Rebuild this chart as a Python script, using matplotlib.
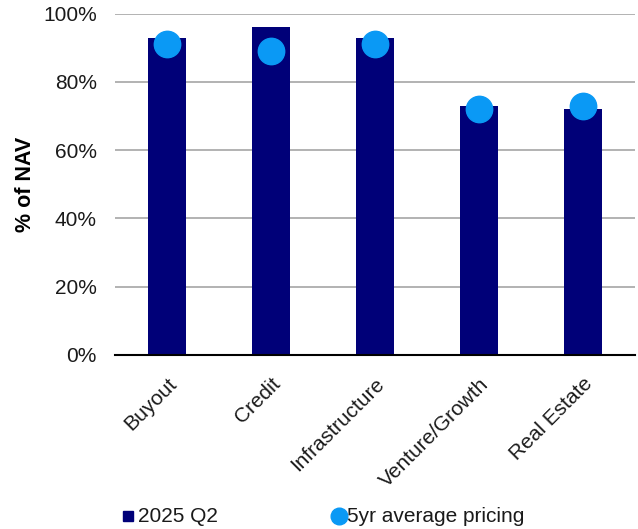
import matplotlib
matplotlib.use("Agg")
import matplotlib.pyplot as plt
from matplotlib.lines import Line2D
from matplotlib.ticker import PercentFormatter

categories = ["Buyout", "Credit", "Infrastructure", "Venture/Growth", "Real Estate"]
q2_2025 = [93, 96, 93, 73, 72]
avg_5yr = [91, 89, 91, 72, 73]
y_ticks = [0, 20, 40, 60, 80, 100]

bar_color = "#000078"
dot_color = "#0a99f5"
text_color = "#1a1a1a"

plt.rcParams["font.family"] = ["Liberation Sans", "DejaVu Sans"]

fig = plt.figure(figsize=(6.38, 5.29), dpi=100)
ax = fig.add_axes([0.180, 0.329, 0.815, 0.645])

x = list(range(len(categories)))
ax.bar(x, q2_2025, width=0.37, color=bar_color, zorder=2)
ax.plot(x, avg_5yr, linestyle="none", marker="o", markersize=19,
        color=dot_color, zorder=3)

ax.set_xlim(-0.5, len(categories) - 0.5)
ax.set_ylim(0, 100)
ax.set_yticks(y_ticks)
ax.yaxis.set_major_formatter(PercentFormatter(decimals=0))
ax.grid(axis="y", color="#a6a6a6", linewidth=1.2, zorder=0)
ax.set_axisbelow(True)

for side in ("top", "right", "left"):
    ax.spines[side].set_visible(False)
ax.spines["bottom"].set_color("black")
ax.spines["bottom"].set_linewidth(1.5)
ax.spines["bottom"].set_zorder(4)

ax.tick_params(axis="y", length=0, pad=13, labelsize=15, colors=text_color)
ax.tick_params(axis="x", length=0, pad=14, labelsize=15, colors=text_color)
ax.set_xticks(x)
ax.set_xticklabels(categories, rotation=45, ha="right", rotation_mode="anchor")
ax.set_ylabel("% of NAV", fontsize=15.5, fontweight="bold", labelpad=5)

# Legend drawn manually along the bottom edge
leg_y = 1 - 516 / 529
fig.add_artist(Line2D([128 / 638], [leg_y], linestyle="none", marker="s",
                      markersize=6.5, color=bar_color, transform=fig.transFigure))
fig.text(138 / 638, leg_y, "2025 Q2", fontsize=15, color=text_color,
         va="center", ha="left")
fig.add_artist(Line2D([339 / 638], [leg_y], linestyle="none", marker="o",
                      markersize=12, color=dot_color, transform=fig.transFigure))
fig.text(347 / 638, leg_y, "5yr average pricing", fontsize=15, color=text_color,
         va="center", ha="left")

fig.savefig("out.png", dpi=100)
